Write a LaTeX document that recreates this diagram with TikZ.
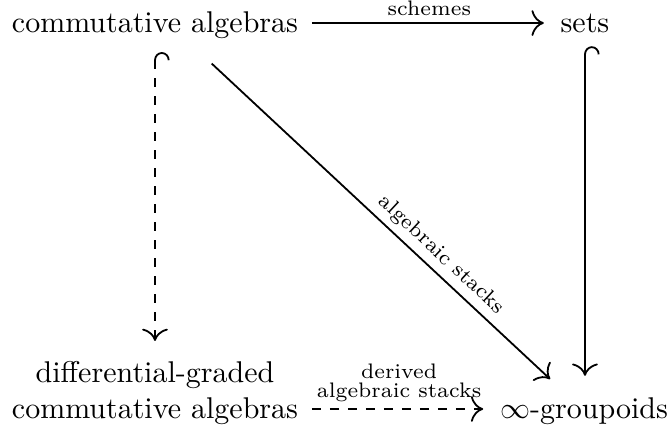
\documentclass[tikz,border=0pt]{standalone}
\usepackage{amsmath,amssymb}
\usetikzlibrary{arrows, arrows.meta, positioning}

\begin{document}
\begin{tikzpicture}[> = {To[scale = 1.4]}, % arrow head style
        shorten > = 2pt, % keep arrow heads off the nodes
        shorten < = 1pt,
        x = 0.3333pt, y = -0.3333pt, % one unit is one pixel
        semithick % line style
    ]
    \useasboundingbox (0,0) rectangle (670,428);

    \tikzstyle{lbl}=[font = \scriptsize, inner sep = 2pt]
    \tikzstyle{hook}=[{Hooks[right, scale = 1.8]}->]

    \node (ca) [anchor = base] at (155,32) {commutative algebras};
    \node (sets) [anchor = base] at (585,32) {sets};
    \node (dg) [anchor = base, align = center] at (155,418)
        {differential-graded\\ commutative algebras};
    \node (inf) [anchor = base] at (584,418) {$\infty$-groupoids};

    \path[->] ([yshift = 3pt]ca.base east) edge node[lbl, above] {schemes}
        ([yshift = 3pt]ca.base east -| sets.west);
    \path[hook, dashed] (ca.south) edge[shorten > = 3pt] (dg.north);
    \path[hook] (sets.south) edge[shorten > = 3.5pt] (sets.south |- inf.north);
    \path[->] ([xshift = 5pt]ca.center) edge[shorten < = 19pt, shorten > = 3.5pt]
        node[lbl, sloped, above, pos = 0.67] {algebraic stacks} (inf);
    \path[->, dashed] ([yshift = 3pt]inf.base west -| dg.east) edge
        node[lbl, above, align = center] {derived\\[-1.5pt] algebraic stacks}
        ([yshift = 3pt]inf.base west);
\end{tikzpicture}
\end{document}
